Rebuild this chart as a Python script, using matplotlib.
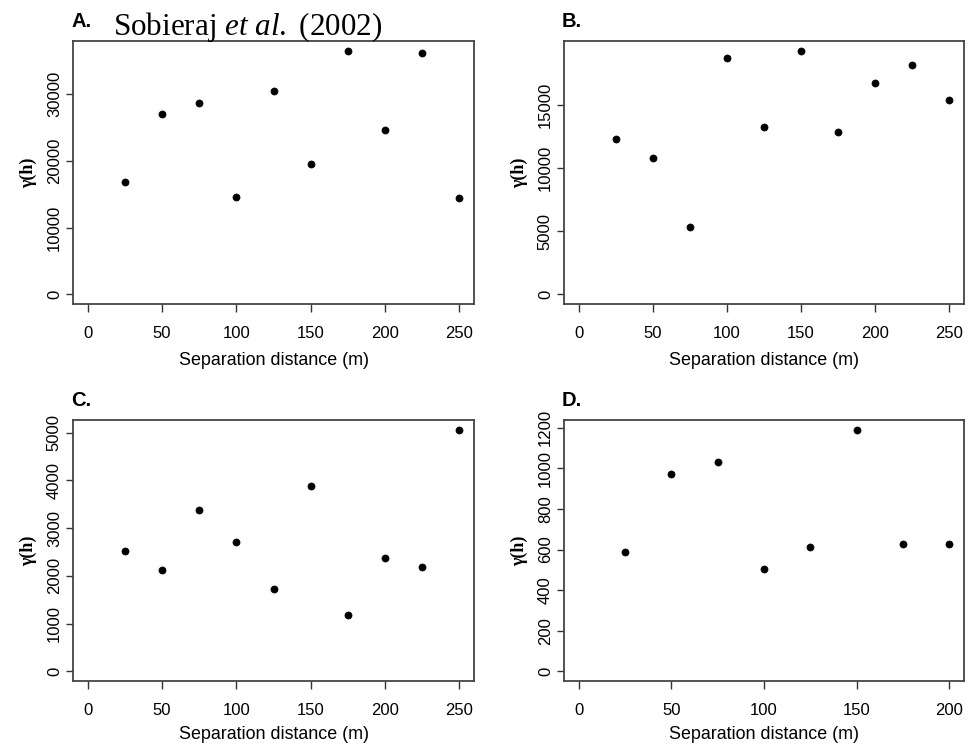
import matplotlib
matplotlib.use("Agg")
import matplotlib.pyplot as plt
from matplotlib.transforms import offset_copy

plt.rcParams['font.family'] = ['Liberation Sans', 'DejaVu Sans']
plt.rcParams['mathtext.fontset'] = 'custom'
plt.rcParams['mathtext.rm'] = 'Liberation Serif'
plt.rcParams['mathtext.it'] = 'Liberation Serif:italic'

# Data
dist_abc = [25, 50, 75, 100, 125, 150, 175, 200, 225, 250]
dist_d = [25, 50, 75, 100, 125, 150, 175, 200]
gamma_a = [16800, 27000, 28650, 14550, 30570, 19580, 36540, 24700, 36230, 14500]
gamma_b = [12350, 10790, 5330, 18740, 13250, 19320, 12910, 16800, 18160, 15450]
gamma_c = [2520, 2125, 3383, 2702, 1716, 3883, 1175, 2383, 2188, 5063]
gamma_d = [588, 973, 1032, 503, 614, 1191, 629, 628]

panel_labels = ["A.", "B.", "C.", "D."]
xticks_abc = [0, 50, 100, 150, 200, 250]
xticks_d = [0, 50, 100, 150, 200]
yticks_a = [0, 10000, 20000, 30000]
yticks_b = [0, 5000, 10000, 15000]
yticks_c = [0, 1000, 2000, 3000, 4000, 5000]
yticks_d = [0, 200, 400, 600, 800, 1000, 1200]

W, H = 971, 745
fig = plt.figure(figsize=(W / 100, H / 100), dpi=100)

def rect(l, t, r, b):
    return [l / W, 1 - b / H, (r - l) / W, (b - t) / H]

boxes = [rect(73, 41, 474, 304), rect(564, 41, 964, 304),
         rect(73, 420, 474, 681), rect(564, 420, 964, 681)]

panels = [
    (dist_abc, gamma_a, xticks_abc, yticks_a),
    (dist_abc, gamma_b, xticks_abc, yticks_b),
    (dist_abc, gamma_c, xticks_abc, yticks_c),
    (dist_d, gamma_d, xticks_d, yticks_d),
]

for i, (box, (xs, ys, xt, yt), lab) in enumerate(zip(boxes, panels, panel_labels)):
    ax = fig.add_axes(box)
    ax.scatter(xs, ys, s=26, c='black', edgecolors='black', linewidths=0.5, zorder=3)
    xmax = xt[-1]
    ax.set_xlim(-0.04 * xmax, xmax * 1.04)
    ymax = max(ys)
    ax.set_ylim(-0.04 * ymax, ymax * 1.04)
    ax.set_xticks(xt)
    ax.set_yticks(yt)
    ax.set_yticklabels([str(v) for v in yt], rotation=90, va='center')
    ax.tick_params(direction='out', width=1.0, colors='#333333',
                   labelcolor='black', labelsize=12)
    ax.tick_params(axis='x', length=6, pad=9.5)
    ax.tick_params(axis='y', length=5, pad=3)
    for sp in ax.spines.values():
        sp.set_color('#444444')
        sp.set_linewidth(1.3)
    ax.set_xlabel("Separation distance (m)", fontsize=12.9,
                  labelpad=8.5 if i < 2 else 6.0)
    ax.set_ylabel("γ(h)", fontsize=13, fontweight='bold', family='Liberation Serif', labelpad=7)
    trans = offset_copy(ax.transAxes, fig=fig, x=-2, y=14, units='dots')
    ax.text(0, 1, lab, transform=trans, fontsize=14.5, fontweight='bold',
            ha='left', va='baseline')

fig.text(113 / W, 1 - 35 / H, r"Sobieraj $\mathit{et\ al.}$ (2002)", fontsize=22.4,
         family='Liberation Serif', ha='left', va='baseline')

fig.savefig("out.png", dpi=100)
